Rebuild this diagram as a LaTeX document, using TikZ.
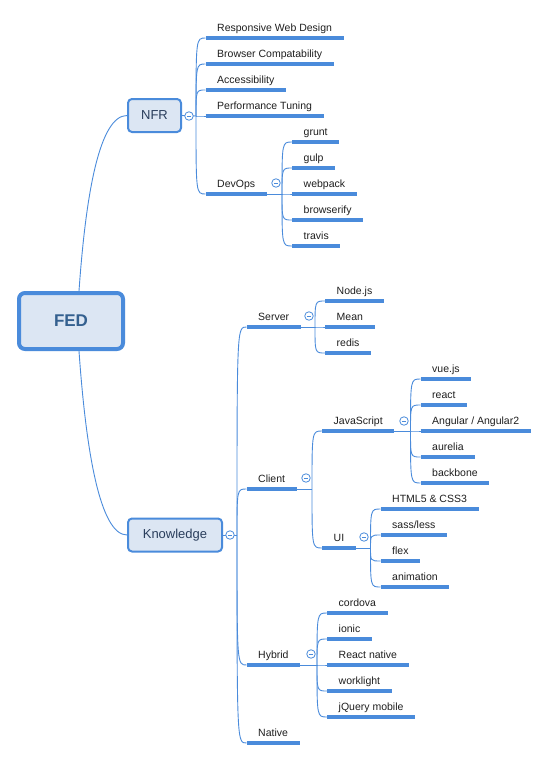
\documentclass[tikz,border=0pt]{standalone}
\usepackage{fontspec}
\setmainfont{Liberation Sans}
\usetikzlibrary{calc}
\definecolor{mapblue}{HTML}{4A8BDB}
\definecolor{boxfill}{HTML}{DCE6F3}
\definecolor{fedtext}{HTML}{34608F}
\definecolor{toptext}{HTML}{2A3E5C}
\definecolor{leaftext}{HTML}{1E1E1E}

\begin{document}
\begin{tikzpicture}[x=1pt,y=-1pt]
\tikzset{root/.style = {draw=mapblue, fill=boxfill, line width=4pt, rounded corners=6pt,
	minimum width=104pt, minimum height=56pt, text=fedtext,
	font=\fontsize{17}{20}\selectfont\bfseries}}
\tikzset{topic/.style = {draw=mapblue, fill=boxfill, line width=2pt, rounded corners=4pt,
	minimum height=33pt, text=toptext, font=\fontsize{13}{15}\selectfont}}
\tikzset{uline/.style = {draw=mapblue, line width=3.2pt}}
\tikzset{leaf/.style = {anchor=south west, inner xsep=11.5pt, inner ysep=0pt, text depth=6.5pt,
	text=leaftext, font=\fontsize{10.5}{12}\selectfont}}
\tikzset{link/.style = {draw=mapblue, line width=0.9pt,
	to path={.. controls (\tikztostart |- \tikztotarget) .. (\tikztotarget)}}}
\tikzset{fold/.style = {circle, draw=mapblue, fill=white, line width=0.8pt,
	minimum size=8.5pt, inner sep=0pt,
	path picture={\draw[mapblue, line width=0.7pt]
		([xshift=-2.2pt]path picture bounding box.center) --
		([xshift=2.2pt]path picture bounding box.center);}}}
\useasboundingbox (0,0) rectangle (552,760);

% main topics
\node[root] (fed) at (71,321) {FED};
\node[topic, minimum width=53pt] (nfr) at (154.5,115.5) {NFR};
\node[topic, minimum width=94pt] (know) at (175,535) {Knowledge};

% NFR
\node[leaf] (rwd) at (205.5,38) {Responsive Web Design};
\node[leaf] (bc) at (205.5,64) {Browser Compatability};
\node[leaf] (acc) at (205.5,90) {Accessibility};
\node[leaf] (perf) at (205.5,116) {Performance Tuning};
\node[leaf] (devops) at (205.5,194) {DevOps};

\node[leaf] (grunt) at (292,142) {grunt};
\node[leaf] (gulp) at (292,168) {gulp};
\node[leaf] (webpack) at (292,194) {webpack};
\node[leaf] (bify) at (292,220) {browserify};
\node[leaf] (travis) at (292,246) {travis};

% Knowledge
\node[leaf] (server) at (246.5,327) {Server};
\node[leaf] (client) at (246.5,489) {Client};
\node[leaf] (hybrid) at (246.5,665) {Hybrid};
\node[leaf] (native) at (246.5,743) {Native};

\node[leaf] (node) at (325,301) {Node.js};
\node[leaf] (mean) at (325,327) {Mean};
\node[leaf] (redis) at (325,353) {redis};

\node[leaf] (js) at (322,431) {JavaScript};
\node[leaf] (ui) at (322,548) {UI};

\node[leaf] (vue) at (420.5,379) {vue.js};
\node[leaf] (react) at (420.5,405) {react};
\node[leaf] (angular) at (420.5,431) {Angular / Angular2};
\node[leaf] (aurelia) at (420.5,457) {aurelia};
\node[leaf] (backbone) at (420.5,483) {backbone};

\node[leaf] (html) at (380.5,509) {HTML5 \& CSS3};
\node[leaf] (sass) at (380.5,535) {sass/less};
\node[leaf] (flex) at (380.5,561) {flex};
\node[leaf] (anim) at (380.5,587) {animation};

\node[leaf] (cordova) at (327,613) {cordova};
\node[leaf] (ionic) at (327,639) {ionic};
\node[leaf] (rn) at (327,665) {React native};
\node[leaf] (worklight) at (327,691) {worklight};
\node[leaf] (jqm) at (327,717) {jQuery mobile};

% underlines
\foreach \n in {rwd,bc,acc,perf,devops,grunt,gulp,webpack,bify,travis,
	server,client,hybrid,native,node,mean,redis,js,ui,vue,react,angular,
	aurelia,backbone,html,sass,flex,anim,cordova,ionic,rn,worklight,jqm}
	\draw[uline] (\n.south west) -- (\n.south east);

% junctions
\coordinate (nfr-j) at (196,116);
\coordinate (know-j) at (237,535);
\coordinate (devops-j) at (282,194);
\coordinate (server-j) at (315,327);
\coordinate (client-j) at (312,489);
\coordinate (js-j) at (410.5,431);
\coordinate (ui-j) at (370.5,548);
\coordinate (hybrid-j) at (317,665);

% connectors
\draw[link] ([xshift=8pt]fed.north) .. controls +(7,-100) and +(-27,0) .. (nfr.west);
\draw[link] ([xshift=8pt]fed.south) .. controls +(7,100) and +(-27,0) .. (know.west);

\draw[link] (nfr.east) -- (nfr-j);
\draw[link] (nfr-j) to (rwd.south west);
\draw[link] (nfr-j) to (bc.south west);
\draw[link] (nfr-j) to (acc.south west);
\draw[link] (nfr-j) to (perf.south west);
\draw[link] (nfr-j) to (devops.south west);

\draw[link] (devops.south east) -- (devops-j);
\draw[link] (devops-j) to (grunt.south west);
\draw[link] (devops-j) to (gulp.south west);
\draw[link] (devops-j) to (webpack.south west);
\draw[link] (devops-j) to (bify.south west);
\draw[link] (devops-j) to (travis.south west);

\draw[link] (know.east) -- (know-j);
\draw[link] (know-j) to (server.south west);
\draw[link] (know-j) to (client.south west);
\draw[link] (know-j) to (hybrid.south west);
\draw[link] (know-j) to (native.south west);

\draw[link] (server.south east) -- (server-j);
\draw[link] (server-j) to (node.south west);
\draw[link] (server-j) to (mean.south west);
\draw[link] (server-j) to (redis.south west);

\draw[link] (client.south east) -- (client-j);
\draw[link] (client-j) to (js.south west);
\draw[link] (client-j) to (ui.south west);

\draw[link] (js.south east) -- (js-j);
\draw[link] (js-j) to (vue.south west);
\draw[link] (js-j) to (react.south west);
\draw[link] (js-j) to (angular.south west);
\draw[link] (js-j) to (aurelia.south west);
\draw[link] (js-j) to (backbone.south west);

\draw[link] (ui.south east) -- (ui-j);
\draw[link] (ui-j) to (html.south west);
\draw[link] (ui-j) to (sass.south west);
\draw[link] (ui-j) to (flex.south west);
\draw[link] (ui-j) to (anim.south west);

\draw[link] (hybrid.south east) -- (hybrid-j);
\draw[link] (hybrid-j) to (cordova.south west);
\draw[link] (hybrid-j) to (ionic.south west);
\draw[link] (hybrid-j) to (rn.south west);
\draw[link] (hybrid-j) to (worklight.south west);
\draw[link] (hybrid-j) to (jqm.south west);

% fold buttons
\node[fold] (nfr-c) at (189,116) {};
\node[fold] (know-c) at (230,535) {};
\node[fold] (devops-c) at ($(devops-j)+(-6,-11)$) {};
\node[fold] (server-c) at ($(server-j)+(-6,-11)$) {};
\node[fold] (client-c) at ($(client-j)+(-6,-11)$) {};
\node[fold] (js-c) at ($(js-j)+(-6.5,-10)$) {};
\node[fold] (ui-c) at ($(ui-j)+(-6.5,-11)$) {};
\node[fold] (hybrid-c) at ($(hybrid-j)+(-6,-11)$) {};
\end{tikzpicture}
\end{document}
